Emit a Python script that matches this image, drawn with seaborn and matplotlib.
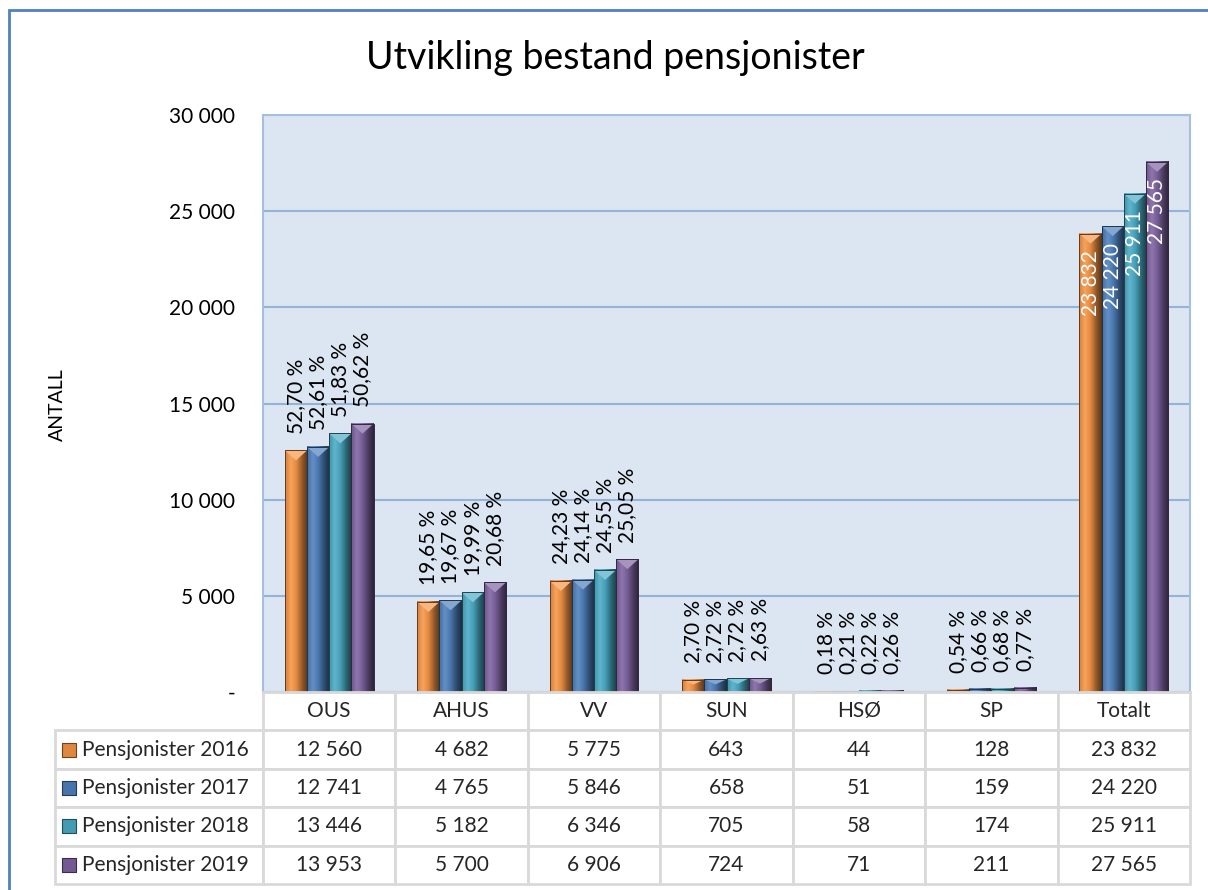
import numpy as np
import pandas as pd
import matplotlib.pyplot as plt
import seaborn as sns
from matplotlib.colors import LinearSegmentedColormap, to_rgb
from matplotlib.patches import Polygon, Rectangle

# data
regions = ['OUS', 'AHUS', 'VV', 'SUN', 'HSØ', 'SP', 'Totalt']
series = ['Pensjonister 2016', 'Pensjonister 2017', 'Pensjonister 2018', 'Pensjonister 2019']
antall_2016 = [12560, 4682, 5775, 643, 44, 128, 23832]
antall_2017 = [12741, 4765, 5846, 658, 51, 159, 24220]
antall_2018 = [13446, 5182, 6346, 705, 58, 174, 25911]
antall_2019 = [13953, 5700, 6906, 724, 71, 211, 27565]
andel_2016 = ['52,70 %', '19,65 %', '24,23 %', '2,70 %', '0,18 %', '0,54 %']
andel_2017 = ['52,61 %', '19,67 %', '24,14 %', '2,72 %', '0,21 %', '0,66 %']
andel_2018 = ['51,83 %', '19,99 %', '24,55 %', '2,72 %', '0,22 %', '0,68 %']
andel_2019 = ['50,62 %', '20,68 %', '25,05 %', '2,63 %', '0,26 %', '0,77 %']
colors = ['#F79646', '#4F81BD', '#4BACC6', '#8064A2']

antall = [antall_2016, antall_2017, antall_2018, antall_2019]
andel = [andel_2016, andel_2017, andel_2018, andel_2019]

df = pd.DataFrame({
    'region': regions * 4,
    'serie': np.repeat(series, len(regions)),
    'antall': antall_2016 + antall_2017 + antall_2018 + antall_2019,
})


def fmt(v):
    return '-' if v == 0 else f'{int(v):,}'.replace(',', ' ')


def shade(c, f):
    c = np.array(to_rgb(c))
    return tuple(c + (1 - c) * f) if f > 0 else tuple(c * (1 + f))


sns.set_theme(style='white')
plt.rcParams['font.family'] = ['Lato', 'DejaVu Sans']

W, H = 1208, 890
fig = plt.figure(figsize=(W / 100, H / 100), dpi=100)
ax = fig.add_axes([263 / W, 1 - 692 / H, 927 / W, 577 / H])
ax.set_facecolor('#DCE6F2')

sns.barplot(data=df, x='region', y='antall', hue='serie', palette=colors,
            width=0.67, saturation=1, ax=ax, legend=False, zorder=2)

# bevelled look on each bar
for cont, col in zip(ax.containers, colors):
    cmap = LinearSegmentedColormap.from_list(
        'bevel', [shade(col, -0.15), shade(col, 0.12), shade(col, -0.08),
                  shade(col, -0.4), shade(col, -0.65)])
    for p in cont:
        x, w, h = p.get_x(), p.get_width(), p.get_height()
        ax.imshow(np.linspace(0, 1, 64).reshape(1, -1), cmap=cmap,
                  extent=[x, x + w, 0, h], aspect='auto', zorder=2.1,
                  interpolation='bicubic')
        d = min(520, h * 0.4)
        ax.add_patch(Polygon([[x, h], [x + w, h], [x + w / 2, h - d]], closed=True,
                             facecolor=shade(col, 0.3), lw=0, zorder=2.2))
        p.set_facecolor('none')
        p.set_edgecolor(shade(col, -0.6))
        p.set_linewidth(0.7)
        p.set_zorder(2.3)

ax.set_xlim(-0.5, len(regions) - 0.5)
ax.set_ylim(0, 30000)
ax.set_yticks(range(0, 30001, 5000))
ax.set_yticklabels([fmt(v) for v in range(0, 30001, 5000)])
ax.tick_params(axis='y', length=0, pad=20, labelsize=15, labelcolor='black')
ax.tick_params(axis='x', length=0, labelbottom=False)
ax.set_xlabel('')
ax.set_ylabel('')
ax.grid(axis='y', color='#95B3D7', lw=1.5)
ax.set_axisbelow(True)
for side in ['top', 'left', 'right']:
    ax.spines[side].set_color('#A6BFDE')
    ax.spines[side].set_linewidth(1.5)
ax.spines['bottom'].set_color('#D9D9D9')
ax.spines['bottom'].set_linewidth(2)

# percentage labels above bars, totals inside the Totalt bars
for i, cont in enumerate(ax.containers):
    ax.bar_label(cont, labels=andel[i] + [''], rotation=90, padding=12,
                 fontsize=15, color='black')
    tl = ax.bar_label(cont, labels=[''] * 6 + [fmt(antall[i][-1])], rotation=90,
                      padding=-12, fontsize=15, color='white')
    for t in tl:
        t.set_va('top')

# data table below the plot
cell_text = [[series[i]] + [fmt(v) for v in antall[i]] for i in range(4)]
tab_w, lab_w, tab_h = 1135, 208, 192
col_w = [lab_w / tab_w] + [(tab_w - lab_w) / 7 / tab_w] * 7
tab = ax.table(cellText=cell_text, colLabels=[''] + regions, colWidths=col_w,
               cellLoc='center', bbox=[-lab_w / 927, -tab_h / 577, tab_w / 927, tab_h / 577])
tab.auto_set_font_size(False)
tab.set_fontsize(15)
for (r, c), cell in tab.get_celld().items():
    cell.set_edgecolor('#D9D9D9')
    cell.set_linewidth(2)
    if r == 0 and c == 0:
        cell.visible_edges = ''
    if c == 0 and r > 0:
        cell._loc = 'left'
        cell.PAD = 0.13
        cell.get_text().set_ha('left')

# legend keys inside the table
row_h = tab_h / 5 / 577
for i, col in enumerate(colors):
    ax.scatter([(69 - 263) / 927], [-tab_h / 577 + row_h * (3.5 - i)], s=110, marker='s',
               color=shade(col, -0.1), edgecolor=shade(col, -0.55), lw=0.8,
               transform=ax.transAxes, clip_on=False, zorder=5)

fig.text(615 / W, 1 - 58 / H, 'Utvikling bestand pensjonister', fontsize=27,
         fontweight='normal', ha='center', va='center', color='black')
fig.text(57 / W, 1 - 405 / H, 'ANTALL', fontsize=14, rotation=90,
         ha='center', va='center', color='black')

fig.add_artist(Rectangle((9 / W, -0.1), 1.2, 1.1 - 10 / H, transform=fig.transFigure,
                         fill=False, edgecolor='#4F81BD', lw=2))

fig.savefig('out.png', dpi=100)
